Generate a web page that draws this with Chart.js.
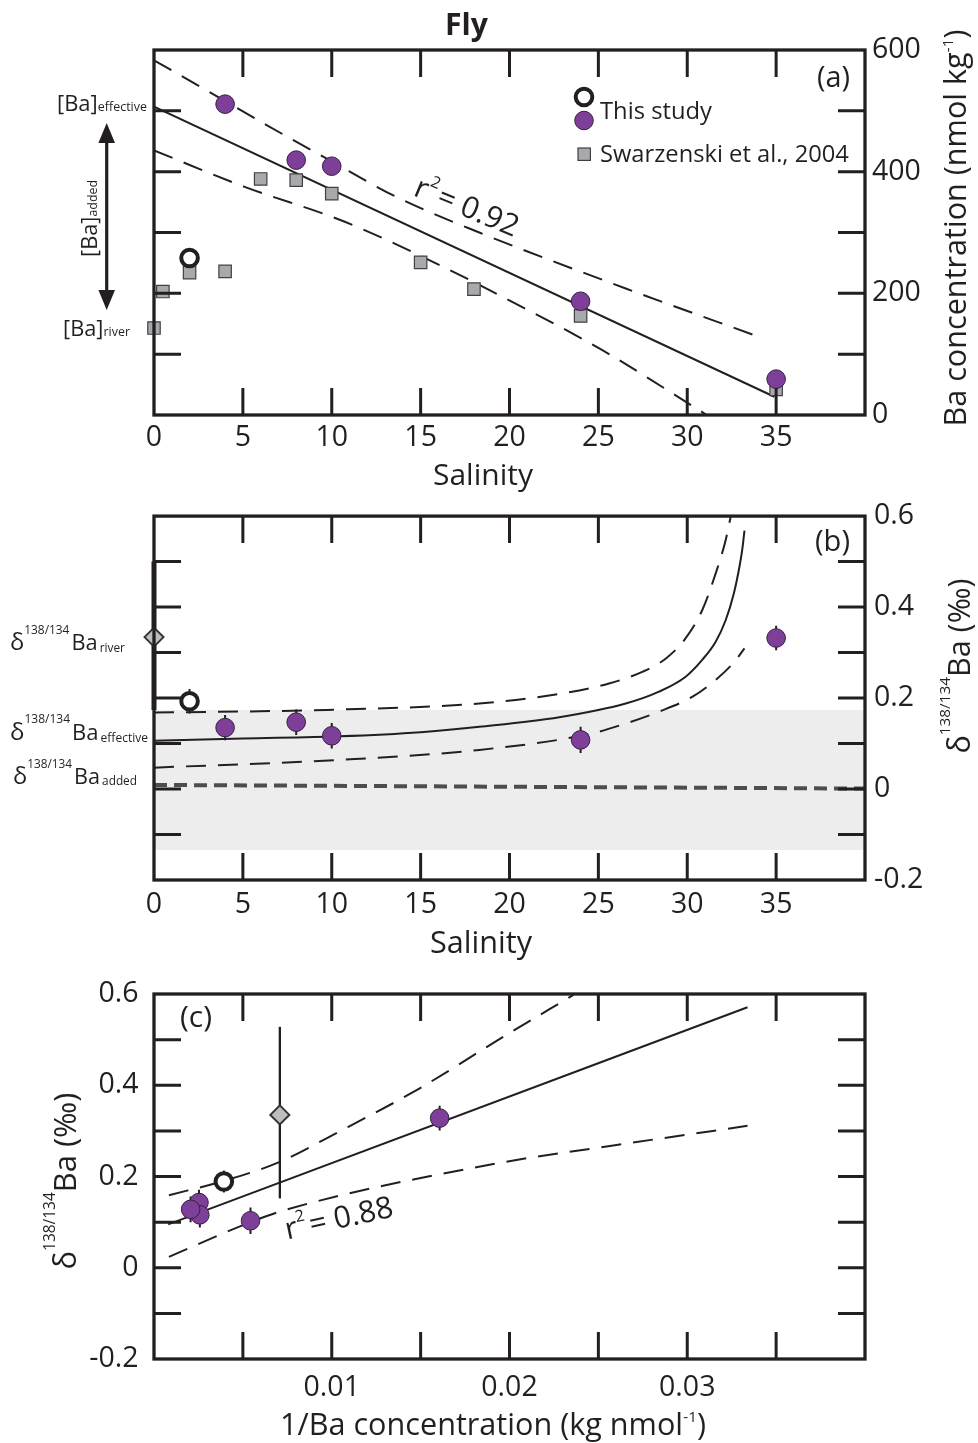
<!DOCTYPE html>
<html>
<head>
<meta charset="utf-8">
<title>Fly</title>
<script src="https://cdn.jsdelivr.net/npm/chart.js@4.4.1/dist/chart.umd.min.js"></script>
<style>
  html, body { margin:0; padding:0; background:#ffffff; }
  #wrap { position:relative; width:978px; height:1443px; overflow:hidden; background:#fff; }
  #wrap canvas { position:absolute; left:0; }
</style>
</head>
<body>
<div id="wrap">
  <canvas id="chartA" width="978" height="505" style="top:0px;width:978px;height:505px"></canvas>
  <canvas id="chartB" width="978" height="490" style="top:490px;width:978px;height:490px"></canvas>
  <canvas id="chartC" width="978" height="483" style="top:960px;width:978px;height:483px"></canvas>
</div>
<script>
// ================= DATA =================
// ---- Panel (a): Ba concentration vs salinity ----
const aSalThis   = [4, 8, 10, 24, 35];
const aBaThis    = [511, 419, 409, 187, 59];
const aSalOpen   = [2];
const aBaOpen    = [258];
const aSalSwz    = [0, 0.5, 2, 4, 6, 8, 10, 15, 18, 24, 35];
const aBaSwz     = [143, 203, 234, 236, 388, 386, 364, 251, 207, 163, 42];
const aFitSal    = [0, 34.9];
const aFitBa     = [507, 30];
const aUpperSal  = [0, 2.94, 6.31, 9.87, 13.6, 18.3, 26.54, 34.27];
const aUpperBa   = [583, 534, 477, 419, 359, 300, 208, 126];
const aLowerSal  = [0, 5.1, 10.7, 16.24, 19.42, 25.2, 30.5, 31.1];
const aLowerBa   = [435, 375, 318, 244, 197, 107, 11, 0];
const aXTicks    = [0, 5, 10, 15, 20, 25, 30, 35];
const aXLabels   = ['0', '5', '10', '15', '20', '25', '30', '35'];
const aXMarks    = [5, 10, 15, 20, 25, 30, 35];
const aYTicks    = [0, 200, 400, 600];
const aYLabels   = ['0', '200', '400', '600'];
const aYMarks    = [100, 200, 300, 400, 500];

// ---- Panel (b): delta138/134Ba vs salinity ----
const bSalThis   = [4, 8, 10, 24, 35];
const bDelThis   = [0.135, 0.147, 0.117, 0.108, 0.332];
const bErrThis   = [0.028, 0.028, 0.028, 0.029, 0.027];
const bSalOpen   = [2];
const bDelOpen   = [0.193];
const bErrOpen   = [0.027];
const bSalRiver  = [0];
const bDelRiver  = [0.334];
const bRiverLo   = [0.174];
const bRiverHi   = [0.50];
const bBandSal   = [0, 40];
const bBandTop   = [0.174, 0.174];
const bBandBottom = -0.134;
const bAddedSal  = [0, 40];
const bAddedDel  = [0.009, 0.001];
const bMixSal    = [0, 5, 10.43, 15, 18.3, 22.8, 26.54, 28.41, 29.91, 30.84, 31.6, 32.16, 32.62, 32.9, 33.09, 33.22];
const bMixDel    = [0.106, 0.111, 0.116, 0.125, 0.137, 0.158, 0.188, 0.214, 0.247, 0.284, 0.324, 0.371, 0.43, 0.481, 0.525, 0.568];
const bUpperSal  = [0, 9.7, 18.3, 22.8, 25.6, 27.5, 28.8, 29.9, 30.84, 31.6, 32.16, 32.44];
const bUpperDel  = [0.168, 0.174, 0.188, 0.209, 0.232, 0.258, 0.287, 0.331, 0.393, 0.474, 0.547, 0.598];
const bLowerSal  = [0, 10.4, 18.3, 24.5, 26.54, 28.41, 30.3, 31.6, 32.57, 33.22];
const bLowerDel  = [0.047, 0.064, 0.086, 0.121, 0.144, 0.17, 0.203, 0.24, 0.276, 0.309];
const bXTicks    = [0, 5, 10, 15, 20, 25, 30, 35];
const bXLabels   = ['0', '5', '10', '15', '20', '25', '30', '35'];
const bXMarks    = [5, 10, 15, 20, 25, 30, 35];
const bYTicks    = [-0.2, 0, 0.2, 0.4, 0.6];
const bYLabels   = ['-0.2', '0', '0.2', '0.4', '0.6'];
const bYMarks    = [-0.1, 0, 0.1, 0.2, 0.3, 0.4, 0.5];

// ---- Panel (c): delta138/134Ba vs 1/Ba ----
const cInvThis   = [0.00253, 0.00258, 0.00543, 0.01607, 0.00206];
const cDelThis   = [0.143, 0.116, 0.103, 0.328, 0.128];
const cErrThis   = [0.028, 0.028, 0.029, 0.027, 0.028];
const cInvOpen   = [0.00393];
const cDelOpen   = [0.189];
const cErrOpen   = [0.024];
const cInvRiver  = [0.00708];
const cDelRiver  = [0.335];
const cRiverLo   = [0.152];
const cRiverHi   = [0.528];
const cFitInv    = [0.0008, 0.03339];
const cFitDel    = [0.095, 0.571];
const cUpperInv  = [0.00084, 0.0039, 0.00708, 0.0101, 0.0148, 0.01948, 0.0236];
const cUpperDel  = [0.159, 0.19, 0.232, 0.292, 0.39, 0.502, 0.598];
const cLowerInv  = [0.00084, 0.00543, 0.0074, 0.01948, 0.02584, 0.03339];
const cLowerDel  = [0.024, 0.1, 0.127, 0.23, 0.268, 0.311];
const cXTicks    = [0.01, 0.02, 0.03];
const cXLabels   = ['0.01', '0.02', '0.03'];
const cXMarks    = [0.005, 0.01, 0.015, 0.02, 0.025, 0.03, 0.035];
const cYTicks    = [-0.2, 0, 0.2, 0.4, 0.6];
const cYLabels   = ['-0.2', '0', '0.2', '0.4', '0.6'];
const cYMarks    = [-0.1, 0, 0.1, 0.2, 0.3, 0.4, 0.5];

// ================= STYLE =================
const INK = '#231f20';
const PURPLE = '#7d3f98';
const PURPLE_EDGE = '#3a1f46';
const GREY = '#a7a9ac';
const DIAMOND = '#bcbec0';
const BAND = '#ecedec';
const FAM = "'Open Sans', 'Noto Sans', sans-serif";
const TICK_FONT = 28.5;

Chart.defaults.font.family = FAM;
Chart.defaults.color = INK;

function pts(xs, ys) { return xs.map((x, i) => ({ x: x, y: ys[i] })); }
function lo(ys, es) { return ys.map((y, i) => y - es[i]); }
function hi(ys, es) { return ys.map((y, i) => y + es[i]); }

function lineDS(xs, ys, dashed, extra) {
  return Object.assign({
    data: pts(xs, ys), showLine: true, pointRadius: 0, pointHoverRadius: 0,
    borderColor: INK, borderWidth: 2, borderDash: dashed ? [20, 12] : [],
    cubicInterpolationMode: 'monotone', fill: false, order: 5
  }, extra || {});
}
function purpleDS(xs, ys, errs) {
  return {
    data: pts(xs, ys), showLine: false, pointStyle: 'circle', pointRadius: 9.3, pointHoverRadius: 9.3,
    backgroundColor: PURPLE, borderColor: PURPLE_EDGE, borderWidth: 1, clip: false, order: 1,
    errLo: errs ? lo(ys, errs) : null, errHi: errs ? hi(ys, errs) : null, errWidth: 2
  };
}
function openDS(xs, ys, errs) {
  return {
    data: pts(xs, ys), showLine: false, pointStyle: 'circle', pointRadius: 8.3, pointHoverRadius: 8.3,
    backgroundColor: '#ffffff', borderColor: INK, borderWidth: 4, clip: false, order: 2,
    errLo: errs ? lo(ys, errs) : null, errHi: errs ? hi(ys, errs) : null, errWidth: 2
  };
}
function diamondDS(xs, ys, los, his, w) {
  return {
    data: pts(xs, ys), showLine: false, pointStyle: 'rectRot', pointRadius: 9.5, pointHoverRadius: 9.5,
    backgroundColor: DIAMOND, borderColor: '#333333', borderWidth: 2, clip: false, order: 3,
    errLo: los, errHi: his, errWidth: w
  };
}

function xAxis(min, max, vals, labels, pad, h) {
  return {
    type: 'linear', position: 'bottom', min: min, max: max,
    grid: { display: false, drawTicks: false }, border: { display: false },
    afterBuildTicks: s => { s.ticks = vals.map(v => ({ value: v })); },
    ticks: { autoSkip: false, maxRotation: 0, minRotation: 0, padding: pad, font: { size: TICK_FONT }, color: INK,
             callback: (v, i) => labels[i] },
    afterFit: s => { s.height = h; }
  };
}
function yAxis(pos, min, max, vals, labels, pad, w) {
  return {
    type: 'linear', position: pos, min: min, max: max,
    grid: { display: false, drawTicks: false }, border: { display: false },
    afterBuildTicks: s => { s.ticks = vals.map(v => ({ value: v })); },
    ticks: { autoSkip: false, padding: pad, font: { size: TICK_FONT }, color: INK,
             callback: (v, i) => labels[i] },
    afterFit: s => { s.width = w; }
  };
}

// rich text: parts [{t, s, dy, gap, w}]
function richText(ctx, parts, o) {
  let total = 0;
  const m = parts.map(p => {
    ctx.font = (p.w || 400) + ' ' + p.s + 'px ' + FAM;
    const w = ctx.measureText(p.t).width;
    total += w + (p.gap || 0);
    return w;
  });
  const k = o.width ? o.width / total : 1;
  ctx.save();
  ctx.translate(o.x, o.y);
  ctx.rotate(o.angle || 0);
  ctx.textBaseline = 'alphabetic';
  ctx.textAlign = 'left';
  ctx.fillStyle = INK;
  let cx = o.align === 'center' ? -total * k / 2 : 0;
  parts.forEach((p, i) => {
    ctx.font = (p.w || 400) + ' ' + (p.s * k) + 'px ' + FAM;
    ctx.fillText(p.t, cx, (p.dy || 0) * k);
    cx += (m[i] + (p.gap || 0)) * k;
  });
  ctx.restore();
}

const errorBarPlugin = {
  id: 'errorBars',
  beforeDatasetDraw(chart, args) {
    const ds = chart.data.datasets[args.index];
    if (!ds.errLo) return;
    const ctx = chart.ctx, xs = chart.scales.x, ys = chart.scales.y;
    ctx.save();
    ctx.strokeStyle = INK;
    ctx.lineWidth = ds.errWidth || 2;
    ctx.beginPath();
    ds.data.forEach((p, i) => {
      const px = xs.getPixelForValue(p.x);
      ctx.moveTo(px, ys.getPixelForValue(ds.errLo[i]));
      ctx.lineTo(px, ys.getPixelForValue(ds.errHi[i]));
    });
    ctx.stroke();
    ctx.restore();
  }
};

function decorPlugin(xMarks, yMarks, offset, textFn) {
  return {
    id: 'decor',
    afterDraw(chart) {
      const ctx = chart.ctx, ca = chart.chartArea, xs = chart.scales.x, ys = chart.scales.y;
      ctx.save();
      ctx.strokeStyle = INK;
      ctx.lineWidth = 3;
      ctx.beginPath();
      xMarks.forEach(v => {
        const px = xs.getPixelForValue(v);
        ctx.moveTo(px, ca.top); ctx.lineTo(px, ca.top + 27);
        ctx.moveTo(px, ca.bottom); ctx.lineTo(px, ca.bottom - 27);
      });
      yMarks.forEach(v => {
        const py = ys.getPixelForValue(v);
        ctx.moveTo(ca.left, py); ctx.lineTo(ca.left + 27, py);
        ctx.moveTo(ca.right, py); ctx.lineTo(ca.right - 27, py);
      });
      ctx.stroke();
      ctx.lineWidth = 3.3;
      ctx.strokeRect(ca.left, ca.top, ca.right - ca.left, ca.bottom - ca.top);
      ctx.translate(0, -offset);
      textFn(ctx, chart);
      ctx.restore();
    }
  };
}

function baseOptions(padding, scales) {
  return {
    responsive: false, animation: false, devicePixelRatio: 1, events: [],
    layout: { padding: padding, autoPadding: false },
    plugins: { legend: { display: false }, tooltip: { enabled: false }, title: { display: false } },
    scales: scales
  };
}

function dot(ctx, x, y, r, fill, stroke, lw) {
  ctx.beginPath(); ctx.arc(x, y, r, 0, Math.PI * 2);
  ctx.fillStyle = fill; ctx.fill();
  if (lw) { ctx.lineWidth = lw; ctx.strokeStyle = stroke; ctx.stroke(); }
}

// ================= PANEL A =================
new Chart(document.getElementById('chartA'), {
  type: 'scatter',
  data: {
    datasets: [
      purpleDS(aSalThis, aBaThis, null),
      openDS(aSalOpen, aBaOpen, null),
      { data: pts(aSalSwz, aBaSwz), showLine: false, pointStyle: 'rect', pointRadius: 8.8, pointHoverRadius: 8.8,
        backgroundColor: GREY, borderColor: '#414042', borderWidth: 1.2, clip: false, order: 3 },
      lineDS(aFitSal, aFitBa, false),
      lineDS(aUpperSal, aUpperBa, true),
      lineDS(aLowerSal, aLowerBa, true)
    ]
  },
  options: baseOptions({ left: 154, top: 50, right: 0, bottom: 0 }, {
    x: xAxis(0, 40, aXTicks, aXLabels, 6, 90),
    y: yAxis('right', 0, 600, aYTicks, aYLabels, 7, 113)
  }),
  plugins: [errorBarPlugin, decorPlugin(aXMarks, aYMarks, 0, (ctx) => {
    richText(ctx, [{ t: 'Fly', s: 30, w: 700 }], { x: 466.5, y: 35, align: 'center', width: 43 });
    richText(ctx, [{ t: 'Salinity', s: 30 }], { x: 483, y: 485, align: 'center', width: 100 });
    richText(ctx, [{ t: 'Ba concentration (nmol kg', s: 30 }, { t: '-1', s: 15, dy: -13 }, { t: ')', s: 30 }],
      { x: 966, y: 228, angle: -Math.PI / 2, align: 'center', width: 397 });
    // legend
    dot(ctx, 584, 97, 8.3, '#ffffff', INK, 4);
    dot(ctx, 584, 120.5, 9.3, PURPLE, PURPLE_EDGE, 1);
    ctx.fillStyle = GREY; ctx.fillRect(578, 148, 12.4, 12.4);
    ctx.lineWidth = 1.2; ctx.strokeStyle = '#414042'; ctx.strokeRect(578, 148, 12.4, 12.4);
    richText(ctx, [{ t: 'This study', s: 24 }], { x: 600, y: 118.5, width: 112 });
    richText(ctx, [{ t: 'Swarzenski et al., 2004', s: 24 }], { x: 600, y: 161.5, width: 249 });
    richText(ctx, [{ t: '(a)', s: 28 }], { x: 817, y: 87, width: 33 });
    // left annotations
    richText(ctx, [{ t: '[Ba]', s: 22 }, { t: 'effective', s: 12.5, gap: 0 }], { x: 57, y: 110.5, width: 90 });
    richText(ctx, [{ t: '[Ba]', s: 22 }, { t: 'river', s: 12.5 }], { x: 63, y: 336, width: 67 });
    richText(ctx, [{ t: '[Ba]', s: 22 }, { t: 'added', s: 12.5 }], { x: 96.5, y: 218.5, angle: -Math.PI / 2, align: 'center', width: 77 });
    // double arrow
    ctx.strokeStyle = INK; ctx.fillStyle = INK; ctx.lineWidth = 3.2;
    ctx.beginPath(); ctx.moveTo(106.7, 140); ctx.lineTo(106.7, 293); ctx.stroke();
    ctx.beginPath(); ctx.moveTo(106.7, 123); ctx.lineTo(115, 143); ctx.lineTo(98.4, 143); ctx.closePath(); ctx.fill();
    ctx.beginPath(); ctx.moveTo(106.7, 310); ctx.lineTo(115, 290); ctx.lineTo(98.4, 290); ctx.closePath(); ctx.fill();
    // r^2
    richText(ctx, [{ t: 'r', s: 30 }, { t: '2', s: 16, dy: -15, gap: 3 }, { t: '= 0.92', s: 30 }],
      { x: 463, y: 216, angle: 22.5 * Math.PI / 180, align: 'center', width: 110 });
  })]
});

// ================= PANEL B =================
const offB = 490;
new Chart(document.getElementById('chartB'), {
  type: 'scatter',
  data: {
    datasets: [
      purpleDS(bSalThis, bDelThis, bErrThis),
      openDS(bSalOpen, bDelOpen, bErrOpen),
      diamondDS(bSalRiver, bDelRiver, bRiverLo, bRiverHi, 5),
      lineDS(bMixSal, bMixDel, false),
      lineDS(bUpperSal, bUpperDel, true),
      lineDS(bLowerSal, bLowerDel, true),
      lineDS(bAddedSal, bAddedDel, false, { borderColor: '#4d4d4f', borderWidth: 4, borderDash: [13, 7], order: 6, cubicInterpolationMode: 'default' }),
      { data: pts(bBandSal, bBandTop), showLine: true, pointRadius: 0, pointHoverRadius: 0, borderWidth: 0,
        borderColor: 'rgba(0,0,0,0)', backgroundColor: BAND, fill: { value: bBandBottom }, order: 20 }
    ]
  },
  options: baseOptions({ left: 154, top: 26, right: 0, bottom: 0 }, {
    x: xAxis(0, 40, bXTicks, bXLabels, 8, 100),
    y: yAxis('right', -0.2, 0.6, bYTicks, bYLabels, 9, 113)
  }),
  plugins: [errorBarPlugin, decorPlugin(bXMarks, bYMarks, offB, (ctx) => {
    richText(ctx, [{ t: 'Salinity', s: 30 }], { x: 481, y: 953, align: 'center', width: 102 });
    richText(ctx, [{ t: 'δ', s: 30 }, { t: '138/134', s: 15, dy: -20 }, { t: 'Ba (‰)', s: 30 }],
      { x: 970, y: 666, angle: -Math.PI / 2, align: 'center', width: 175 });
    richText(ctx, [{ t: '(b)', s: 28 }], { x: 815, y: 551, width: 35 });
    richText(ctx, [{ t: 'δ', s: 24 }, { t: '138/134', s: 12, dy: -16, gap: 2 }, { t: 'Ba', s: 22, gap: 2 }, { t: 'river', s: 12, dy: 2 }],
      { x: 10, y: 650, width: 115 });
    richText(ctx, [{ t: 'δ', s: 24 }, { t: '138/134', s: 12, dy: -16, gap: 2 }, { t: 'Ba', s: 22, gap: 2 }, { t: 'effective', s: 12, dy: 2 }],
      { x: 10, y: 739.5, width: 138 });
    richText(ctx, [{ t: 'δ', s: 24 }, { t: '138/134', s: 12, dy: -16, gap: 2 }, { t: 'Ba', s: 22, gap: 2 }, { t: 'added', s: 12, dy: 2 }],
      { x: 13, y: 783.5, width: 124 });
  })]
});

// ================= PANEL C =================
const offC = 960;
new Chart(document.getElementById('chartC'), {
  type: 'scatter',
  data: {
    datasets: [
      purpleDS(cInvThis, cDelThis, cErrThis),
      openDS(cInvOpen, cDelOpen, cErrOpen),
      diamondDS(cInvRiver, cDelRiver, cRiverLo, cRiverHi, 2.3),
      lineDS(cFitInv, cFitDel, false),
      lineDS(cUpperInv, cUpperDel, true),
      lineDS(cLowerInv, cLowerDel, true)
    ]
  },
  options: baseOptions({ left: 0, top: 34, right: 113, bottom: 0 }, {
    x: xAxis(0, 0.04, cXTicks, cXLabels, 12, 84),
    y: yAxis('left', -0.2, 0.6, cYTicks, cYLabels, 15.5, 154)
  }),
  plugins: [errorBarPlugin, decorPlugin(cXMarks, cYMarks, offC, (ctx) => {
    richText(ctx, [{ t: '1/Ba concentration (kg nmol', s: 30 }, { t: '-1', s: 15, dy: -13 }, { t: ')', s: 30 }],
      { x: 493, y: 1435, align: 'center', width: 426 });
    richText(ctx, [{ t: 'δ', s: 30 }, { t: '138/134', s: 15, dy: -20 }, { t: 'Ba (‰)', s: 30 }],
      { x: 76, y: 1181, angle: -Math.PI / 2, align: 'center', width: 177 });
    richText(ctx, [{ t: '(c)', s: 28 }], { x: 180, y: 1027, width: 32 });
    richText(ctx, [{ t: 'r', s: 30 }, { t: '2', s: 16, dy: -15, gap: 3 }, { t: '= 0.88', s: 30 }],
      { x: 341, y: 1228, angle: -12.2 * Math.PI / 180, align: 'center', width: 110 });
  })]
});
</script>
</body>
</html>
